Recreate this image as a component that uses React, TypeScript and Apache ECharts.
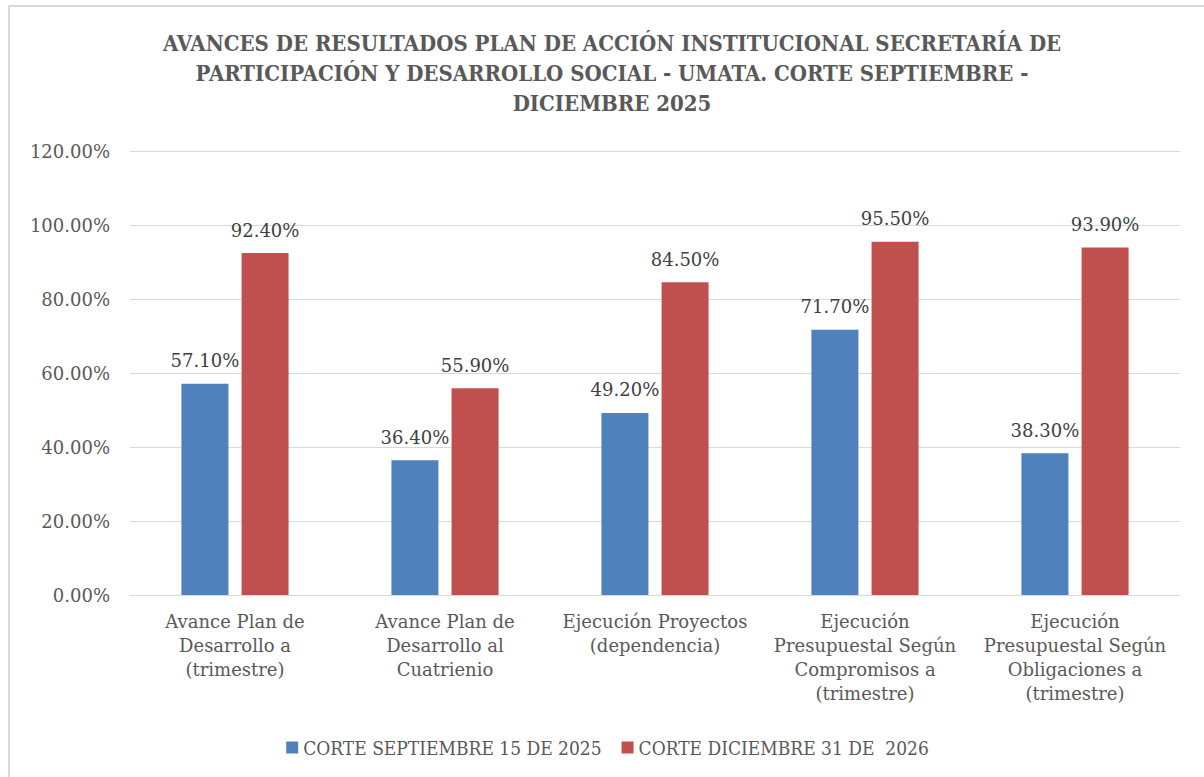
import React, { useEffect, useRef } from "react";
import * as echarts from "echarts";

const categories = [
  "Avance Plan de\nDesarrollo a\n(trimestre)",
  "Avance Plan de\nDesarrollo al\nCuatrienio",
  "Ejecución Proyectos\n(dependencia)",
  "Ejecución\nPresupuestal Según\nCompromisos a\n(trimestre)",
  "Ejecución\nPresupuestal Según\nObligaciones a\n(trimestre)",
];
const seriesNames = ["CORTE SEPTIEMBRE 15 DE 2025", "CORTE DICIEMBRE 31 DE  2026"];
const septiembre = [57.1, 36.4, 49.2, 71.7, 38.3];
const diciembre = [92.4, 55.9, 84.5, 95.5, 93.9];
const titleText =
  "AVANCES DE RESULTADOS PLAN DE ACCIÓN INSTITUCIONAL SECRETARÍA DE\nPARTICIPACIÓN Y DESARROLLO SOCIAL - UMATA. CORTE SEPTIEMBRE -\nDICIEMBRE 2025";

const serif = "'DejaVu Serif', serif";
const condensed = "'DejaVu Serif Condensed', 'DejaVu Serif', serif";

export default function App() {
  const ref = useRef<HTMLDivElement>(null);
  useEffect(() => {
    if (!ref.current) return;
    document.documentElement.style.overflow = "hidden";
    document.body.style.overflow = "hidden";
    const chart = echarts.init(ref.current, undefined, { renderer: "svg" });
    const labelCfg = {
      show: true,
      position: "top",
      distance: 14,
      color: "#404040",
      fontFamily: serif,
      fontSize: 18,
      formatter: (p: any) => p.value.toFixed(2) + "%",
    };
    chart.setOption({
      animation: false,
      backgroundColor: "#ffffff",
      title: {
        text: titleText,
        left: 597,
        textAlign: "center",
        top: 16,
        textStyle: {
          fontFamily: condensed,
          fontWeight: "bold",
          fontSize: 22,
          color: "#595959",
          lineHeight: 30,
        },
      },
      legend: {
        top: 726,
        left: "center",
        itemWidth: 12,
        itemHeight: 12,
        itemGap: 20,
        icon: "rect",
        textStyle: { fontFamily: condensed, fontSize: 19, color: "#595959" },
        data: seriesNames,
      },
      grid: { left: 120, right: 25, top: 144, bottom: 185 },
      xAxis: {
        type: "category",
        data: categories,
        axisLine: { lineStyle: { color: "#d9d9d9" } },
        axisTick: { show: false },
        axisLabel: {
          interval: 0,
          margin: 14,
          color: "#595959",
          fontFamily: serif,
          fontSize: 18,
          lineHeight: 24,
        },
      },
      yAxis: {
        type: "value",
        min: 0,
        max: 120,
        interval: 20,
        axisLine: { show: false },
        axisTick: { show: false },
        splitLine: { lineStyle: { color: "#d9d9d9" } },
        axisLabel: {
          margin: 20,
          color: "#595959",
          fontFamily: serif,
          fontSize: 18,
          formatter: (v: number) => v.toFixed(2) + "%",
        },
      },
      series: [
        {
          name: seriesNames[0],
          type: "bar",
          data: septiembre,
          barWidth: 47,
          barGap: "28%",
          itemStyle: { color: "#4F81BD" },
          label: labelCfg,
        },
        {
          name: seriesNames[1],
          type: "bar",
          data: diciembre,
          barWidth: 47,
          itemStyle: { color: "#C0504D" },
          label: labelCfg,
        },
      ],
    });
    return () => chart.dispose();
  }, []);
  return (
    <div
      ref={ref}
      style={{
        position: "absolute",
        left: 8,
        top: 5,
        width: 1197,
        height: 775,
        borderTop: "2px solid #d9d9d9",
        borderLeft: "2px solid #d9d9d9",
        boxSizing: "border-box",
      }}
    />
  );
}
